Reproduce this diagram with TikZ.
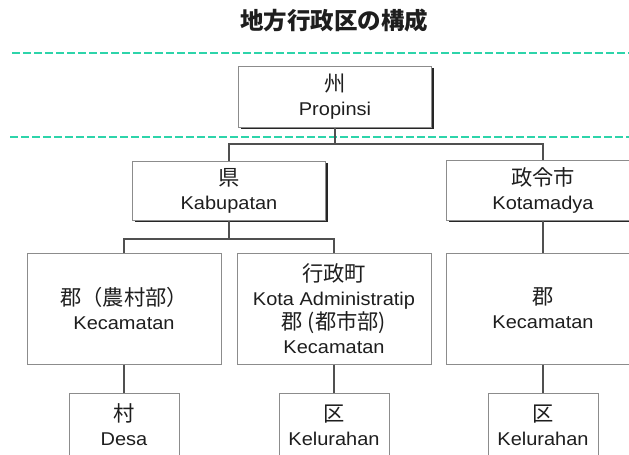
\documentclass[tikz,border=0pt]{standalone}
\usepackage{fontspec}
\setmainfont{Liberation Sans}[FakeStretch=1.08]
\newfontfamily\cjk{Noto Sans CJK JP}[Scale=1.15]
\newfontfamily\cjktitle{Noto Sans CJK JP}
\usetikzlibrary{shadows}
\definecolor{teal}{RGB}{45,212,170}
\definecolor{bordergray}{RGB}{140,140,140}
\definecolor{conngray}{RGB}{80,80,80}
\definecolor{txt}{RGB}{30,30,30}
\tikzset{
  basebox/.style={draw=bordergray, line width=1pt, fill=white, inner sep=0pt, align=center,
    text=txt, font=\fontsize{18.5}{24}\selectfont},
  shadowbox/.style={basebox, minimum width=193pt, drop shadow={shadow xshift=2pt, shadow yshift=-2pt, fill=black!85, opacity=1}},
  midbox/.style={basebox, minimum width=194pt, minimum height=111pt},
  leafbox/.style={basebox, minimum width=110pt, minimum height=64pt},
  conn/.style={draw=conngray, line width=1.5pt},
  sep/.style={draw=teal, line width=2pt, dash pattern=on 8pt off 3pt},
}
\begin{document}
\begin{tikzpicture}[x=1pt,y=1pt]
\useasboundingbox (0,0) rectangle (629,-455);
\clip (0,0) rectangle (629,-455);
\fill[white] (0,0) rectangle (629,-455);

% title
\node[font=\cjktitle\bfseries\fontsize{23.5}{26}\selectfont, text=txt] (title) at (334,-21) {地方行政区の構成};

% separators
\coordinate (s1a) at (12,-53);
\coordinate (s1b) at (629,-53);
\coordinate (s2a) at (10,-137);
\coordinate (s2b) at (629,-137);
\draw[sep] (s1a) -- (s1b);
\draw[sep] (s2a) -- (s2b);

% level 1
\node[shadowbox, minimum height=61pt] (prop) at (335,-96.5) {{\cjk 州}\\Propinsi};

% level 2
\node[shadowbox, minimum height=59pt] (kab) at (229,-190.5) {{\cjk 県}\\Kabupatan};
\node[shadowbox, minimum height=60pt] (kota) at (543,-190) {{\cjk 政令市}\\Kotamadya};

% level 3
\node[midbox] (l3a) at (124,-308.5) {{\cjk 郡（農村部）}\\Kecamatan};
\node[midbox] (l3b) at (334,-308.5) {{\cjk 行政町}\\Kota Administratip\\{\cjk 郡 (都市部)}\\Kecamatan};
\node[midbox] (l3c) at (543,-308.5) {{\cjk 郡}\\Kecamatan};

% level 4
\node[leafbox] (l4a) at (124,-425) {{\cjk 村}\\Desa};
\node[leafbox] (l4b) at (334,-425) {{\cjk 区}\\Kelurahan};
\node[leafbox] (l4c) at (543,-425) {{\cjk 区}\\Kelurahan};

% connectors
\coordinate (j1) at (0,-144);
\coordinate (j2) at (0,-239);
\draw[conn] (prop.south) -- (prop.south |- j1);
\draw[conn] (kab.north) -- (kab.north |- j1) -- (kota.north |- j1) -- (kota.north);
\draw[conn] (kab.south) -- (kab.south |- j2);
\draw[conn] (l3a.north) -- (l3a.north |- j2) -- (l3b.north |- j2) -- (l3b.north);
\draw[conn] (kota.south) -- (kota.south |- l3c.north);
\draw[conn] (l3a.south) -- (l3a.south |- l4a.north);
\draw[conn] (l3b.south) -- (l3b.south |- l4b.north);
\draw[conn] (l3c.south) -- (l3c.south |- l4c.north);
\end{tikzpicture}
\end{document}
